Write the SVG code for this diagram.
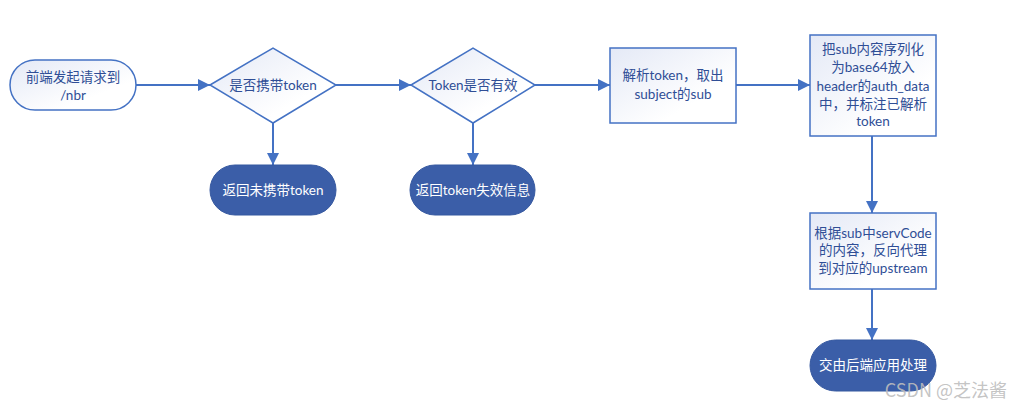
<svg xmlns="http://www.w3.org/2000/svg" width="1012" height="409" viewBox="0 0 1012 409">
<style>
.lt{fill:url(#g);stroke:#4472C4;stroke-width:1.5}
.dk{fill:#3B5EA8;stroke:#3558A0;stroke-width:1}
.t{font-family:Lato,"Noto Sans CJK SC",sans-serif;font-size:13.5px;text-anchor:middle;dominant-baseline:central;fill:#2F4E96}
.w{fill:#FFFFFF}
.c{stroke:#4472C4;stroke-width:2;fill:none;marker-end:url(#a)}
</style>
<defs>
<linearGradient id="g" x1="0" y1="0" x2="1" y2="1">
<stop offset="0" stop-color="#E4E9F6"/>
<stop offset="0.7" stop-color="#FFFFFF"/>
</linearGradient>
<marker id="a" viewBox="0 0 12 12" refX="12" refY="6" markerWidth="12" markerHeight="12" markerUnits="userSpaceOnUse" orient="auto">
<path d="M0,0 L12,6 L0,12 Z" fill="#4472C4"/>
</marker>
</defs>
<rect width="1012" height="409" fill="#FFFFFF"/>
<g id="connectors">
<line class="c" x1="136" y1="85" x2="210" y2="85"/>
<line class="c" x1="336" y1="85" x2="411" y2="85"/>
<line class="c" x1="535" y1="85" x2="610" y2="85"/>
<line class="c" x1="736" y1="85" x2="810" y2="85"/>
<line class="c" x1="273" y1="123" x2="273" y2="165"/>
<line class="c" x1="473" y1="123" x2="473" y2="165"/>
<line class="c" x1="872" y1="136" x2="872" y2="213"/>
<line class="c" x1="872" y1="289" x2="872" y2="340"/>
</g>
<g id="start">
<rect class="lt" x="10" y="60" width="126" height="50" rx="25"/>
<text class="t" x="73" y="77">前端发起请求到</text>
<text class="t" x="73" y="95">/nbr</text>
</g>
<g id="d1">
<polygon class="lt" points="210,85 273,48 336,85 273,123"/>
<text class="t" x="273" y="85">是否携带token</text>
</g>
<g id="e1">
<rect class="dk" x="210" y="165" width="126" height="50" rx="25"/>
<text class="t w" x="273" y="190">返回未携带token</text>
</g>
<g id="d2">
<polygon class="lt" points="411,85 473,48 535,85 473,123"/>
<text class="t" x="473" y="85">Token是否有效</text>
</g>
<g id="e2">
<rect class="dk" x="410" y="165" width="125" height="50" rx="25"/>
<text class="t w" x="473" y="190">返回token失效信息</text>
</g>
<g id="r3">
<rect class="lt" x="610" y="48" width="126" height="75"/>
<text class="t" x="673" y="75">解析token，取出</text>
<text class="t" x="673" y="94">subject的sub</text>
</g>
<g id="r4">
<rect class="lt" x="810" y="35" width="126" height="101"/>
<text class="t" x="873" y="49">把sub内容序列化</text>
<text class="t" x="873" y="67">为base64放入</text>
<text class="t" x="873" y="86">header的auth_data</text>
<text class="t" x="873" y="104">中，并标注已解析</text>
<text class="t" x="873" y="121">token</text>
</g>
<g id="r5">
<rect class="lt" x="810" y="213" width="126" height="76"/>
<text class="t" x="873" y="233">根据sub中servCode</text>
<text class="t" x="873" y="250">的内容，反向代理</text>
<text class="t" x="873" y="268">到对应的upstream</text>
</g>
<g id="e3">
<rect class="dk" x="810" y="340" width="126" height="51" rx="25.5"/>
<text class="t w" x="873" y="365">交由后端应用处理</text>
</g>
<text x="1007" y="389" font-family="'Noto Sans CJK SC','Noto Sans',sans-serif" font-size="18" fill="#BDBDBD" fill-opacity="0.9" text-anchor="end" dominant-baseline="central">CSDN @芝法酱</text>
</svg>
